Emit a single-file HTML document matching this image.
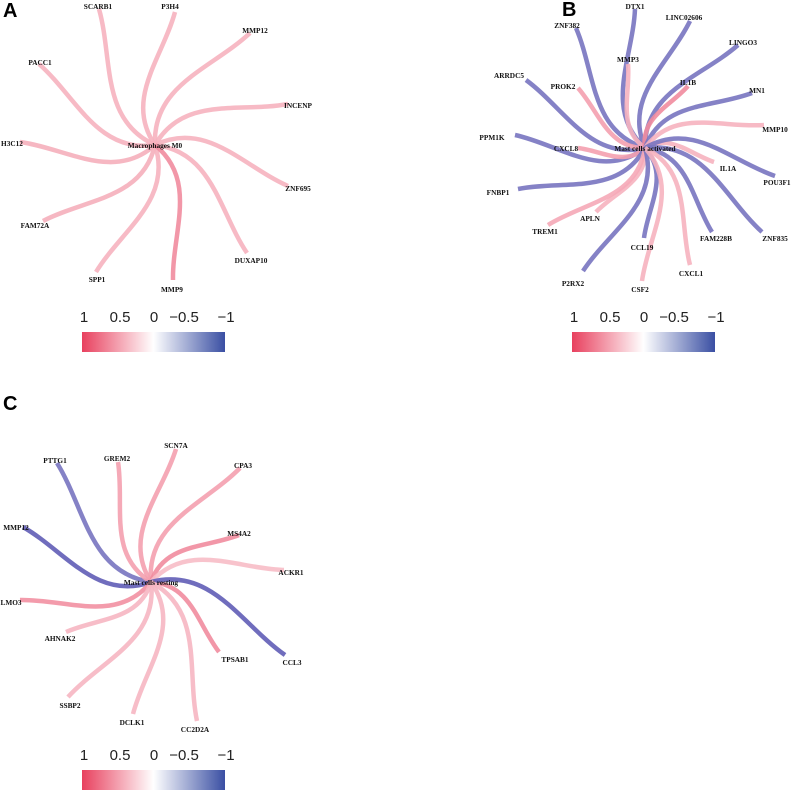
<!DOCTYPE html>
<html><head><meta charset="utf-8">
<style>
body{margin:0;background:#fff;}
svg{display:block;}
.lbl{font-family:"Liberation Serif",serif;font-weight:bold;font-size:7.3px;fill:#111;}
.tick{font-family:"Liberation Sans",sans-serif;font-size:15px;fill:#222;}
.pl{font-family:"Liberation Sans",sans-serif;font-weight:bold;font-size:20px;fill:#000;}
</style></head>
<body>
<svg id="chart" width="800" height="790" viewBox="0 0 800 790">
<defs>
<linearGradient id="cg" x1="0" x2="1" y1="0" y2="0">
<stop offset="0" stop-color="#e8405e"/><stop offset="0.5" stop-color="#ffffff"/><stop offset="1" stop-color="#3a4fa3"/>
</linearGradient>
</defs>
<text class="pl" x="3" y="17">A</text>
<text class="pl" x="562" y="16">B</text>
<text class="pl" x="3" y="410">C</text>
</svg>
<script>
// Panel A: Macrophages M0
const genesA = ["SCARB1","P3H4","MMP12","PACC1","INCENP","H3C12","ZNF695","FAM72A","DUXAP10","SPP1","MMP9"];
const corrA = [0.4,0.4,0.4,0.4,0.4,0.42,0.4,0.42,0.4,0.4,0.6];
const endA = [[99,9],[175,12],[250,33],[39,64],[288,104],[20,142],[288,186],[43,221],[247,253],[96,272],[173,280]];
const labA = [[98,6],[170,6],[255,30],[40,62],[298,105],[12,143],[298,188],[35,225],[251,260],[97,279],[172,289]];

// Panel B: Mast cells activated
const genesB = ["DTX1","LINC02606","ZNF382","LINGO3","MMP3","ARRDC5","PROK2","IL1B","MN1","MMP10","PPM1K","CXCL8","IL1A","POU3F1","FNBP1","APLN","TREM1","FAM228B","ZNF835","CCL19","CXCL1","P2RX2","CSF2"];
const corrB = [-0.6,-0.6,-0.6,-0.6,0.4,-0.6,0.5,0.6,-0.6,0.4,-0.6,0.5,0.4,-0.6,-0.6,0.4,0.45,-0.6,-0.6,-0.6,0.4,-0.6,0.4];
const endB = [[635,9],[690,21],[576,28],[738,45],[628,64],[526,80],[578,88],[688,86],[752,93],[764,125],[515,135],[578,148],[714,162],[775,176],[518,189],[596,212],[548,225],[712,232],[762,232],[644,238],[690,265],[583,271],[642,281]];
const labB = [[635,6],[684,17],[567,25],[743,42],[628,59],[509,75],[563,86],[688,82],[757,90],[775,129],[492,137],[566,148],[728,168],[777,182],[498,192],[590,218],[545,231],[716,238],[775,238],[642,247],[691,273],[573,283],[640,289]];

// Panel C: Mast cells resting
const genesC = ["PTTG1","GREM2","SCN7A","CPA3","MMP12","MS4A2","ACKR1","LMO3","AHNAK2","TPSAB1","CCL3","SSBP2","DCLK1","CC2D2A"];
const corrC = [-0.6,0.5,0.5,0.5,-0.7,0.6,0.35,0.58,0.38,0.6,-0.7,0.38,0.38,0.38];
const endC = [[57,463],[118,462],[176,449],[240,468],[23,527],[239,535],[284,570],[20,600],[66,632],[219,652],[285,655],[68,697],[133,714],[197,721]];
const labC = [[55,460],[117,458],[176,445],[243,465],[16,527],[239,533],[291,572],[11,602],[60,638],[235,659],[292,662],[70,705],[132,722],[195,729]];

const legendTicks = ["1","0.5","0","\u22120.5","\u22121"];

const NS="http://www.w3.org/2000/svg";
const svg=document.getElementById('chart');
function mix(a,b,t){return a.map((v,i)=>Math.round(v+(b[i]-v)*t));}
function colorFor(v){
  const t=Math.min(1,Math.abs(v));
  const c=v>=0?mix([255,255,255],[232,64,94],t):mix([255,255,255],[50,45,160],t*1.1);
  return `rgb(${c[0]},${c[1]},${c[2]})`;
}
function el(tag,attrs){const e=document.createElementNS(NS,tag);for(const k in attrs)e.setAttribute(k,attrs[k]);return e;}
function panel(key,cx,cy,centerName,genes,corr,ends,labs,lx,ly){
  const g=el('g',{});
  
  
  svg.appendChild(g);
  genes.forEach((gn,i)=>{
    const [ex,ey]=ends[i];
    const dx=ex-cx, dy=ey-cy;
    const px=dy, py=-dx;
    const c1x=cx+0.3*dx+0.28*px, c1y=cy+0.3*dy+0.28*py;
    const c2x=cx+0.65*dx+0.04*px, c2y=cy+0.65*dy+0.04*py;
    const p=el('path',{d:`M${cx},${cy} C${c1x},${c1y} ${c2x},${c2y} ${ex},${ey}`,fill:'none',stroke:colorFor(corr[i]),'stroke-width':4.5,'stroke-opacity':0.9,'stroke-linecap':'butt'});
    
    
    g.appendChild(p);
  });
  genes.forEach((gn,i)=>{
    const t=el('text',{class:'lbl',x:labs[i][0],y:labs[i][1]+3,'text-anchor':'middle'});
    t.textContent=gn;
    
    
    g.appendChild(t);
  });
  const ct=el('text',{class:'lbl',x:cx,y:cy+3,'text-anchor':'middle'});
  ct.textContent=centerName;
  
  
  g.appendChild(ct);
  const lg=el('g',{});
  
  
  svg.appendChild(lg);
  const xs=[0,36,70,100,142];
  legendTicks.forEach((tk,i)=>{
    const t=el('text',{class:'tick',x:lx+xs[i],y:ly,'text-anchor':'middle'});
    t.textContent=tk;
    
    
    lg.appendChild(t);
  });
  const r=el('rect',{x:lx-2,y:ly+10,width:143,height:20,fill:'url(#cg)'});
  
  
  lg.appendChild(r);
}
panel('a',155,145,'Macrophages M0',genesA,corrA,endA,labA,84,322);
panel('b',645,148,'Mast cells activated',genesB,corrB,endB,labB,574,322);
panel('c',151,582,'Mast cells resting',genesC,corrC,endC,labC,84,760);
</script>
</body></html>
